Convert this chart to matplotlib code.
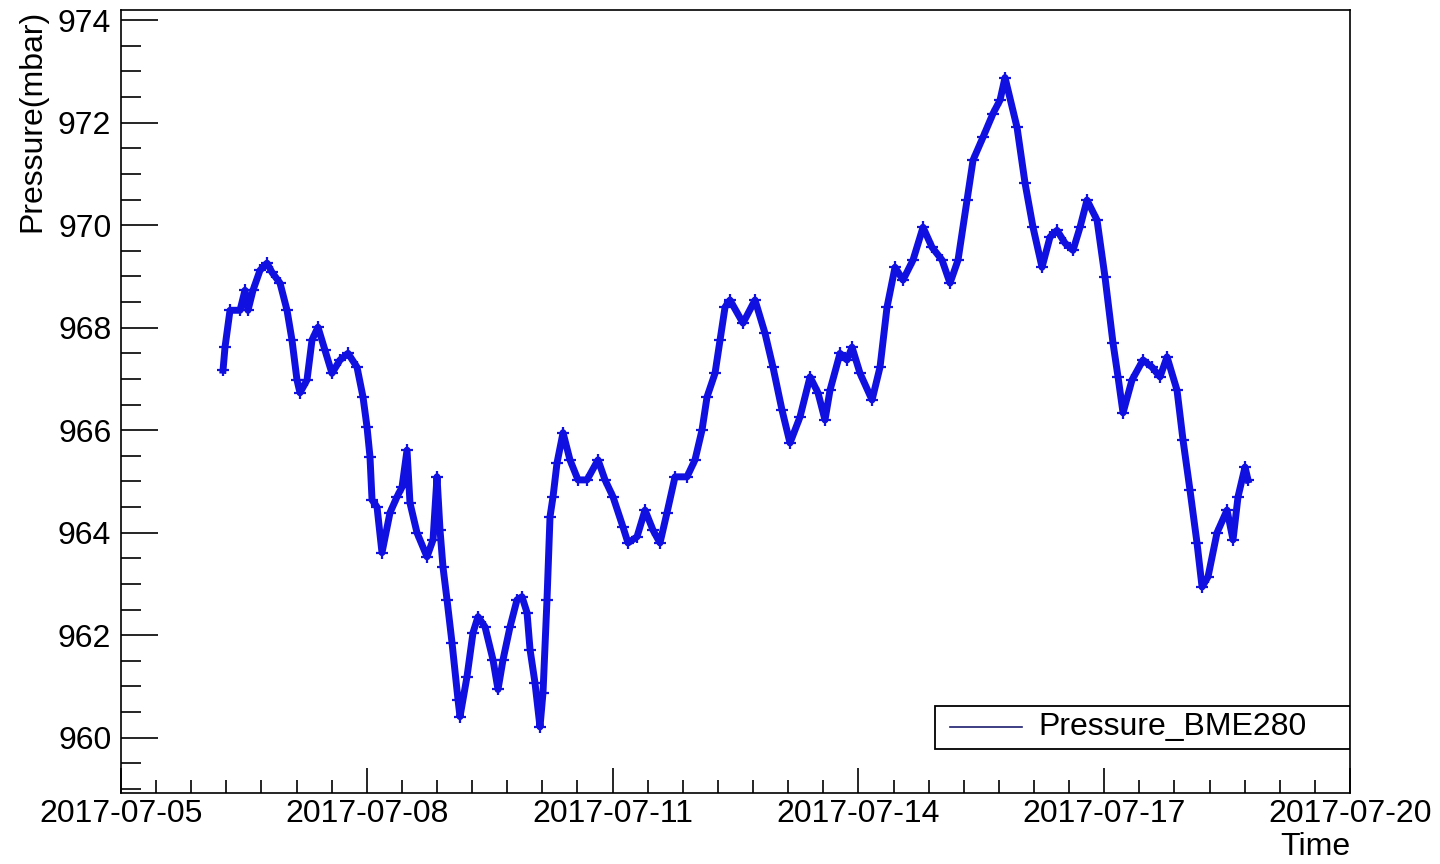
import numpy as np
import pandas as pd
import matplotlib
matplotlib.use("Agg")
import matplotlib.pyplot as plt
import matplotlib.dates as mdates
from matplotlib.ticker import MultipleLocator
from matplotlib.patches import Rectangle
from matplotlib.lines import Line2D

# readings of the BME280 pressure sensor
times = [
    "2017-07-06 05:53", "2017-07-06 06:28", "2017-07-06 07:56", "2017-07-06 10:52", "2017-07-06 12:19",
    "2017-07-06 13:12", "2017-07-06 14:40", "2017-07-06 16:43", "2017-07-06 18:46", "2017-07-06 20:14",
    "2017-07-06 22:35", "2017-07-07 00:38", "2017-07-07 02:05", "2017-07-07 03:33", "2017-07-07 04:26",
    "2017-07-07 06:29", "2017-07-07 07:57", "2017-07-07 09:42", "2017-07-07 11:45", "2017-07-07 13:48",
    "2017-07-07 16:09", "2017-07-07 18:30", "2017-07-07 21:08", "2017-07-07 22:53", "2017-07-08 00:04",
    "2017-07-08 00:56", "2017-07-08 01:32", "2017-07-08 03:00", "2017-07-08 04:27", "2017-07-08 06:48",
    "2017-07-08 08:51", "2017-07-08 10:19", "2017-07-08 11:47", "2017-07-08 12:39", "2017-07-08 14:42",
    "2017-07-08 17:38", "2017-07-08 19:24", "2017-07-08 20:34", "2017-07-08 21:27", "2017-07-08 22:19",
    "2017-07-08 23:30", "2017-07-09 00:58", "2017-07-09 02:43", "2017-07-09 03:18", "2017-07-09 05:21",
    "2017-07-09 07:07", "2017-07-09 08:35", "2017-07-09 10:38", "2017-07-09 12:58", "2017-07-09 14:26",
    "2017-07-09 15:54", "2017-07-09 17:57", "2017-07-09 20:00", "2017-07-09 21:28", "2017-07-09 22:56",
    "2017-07-09 23:49", "2017-07-10 01:16", "2017-07-10 02:44", "2017-07-10 03:37", "2017-07-10 04:47",
    "2017-07-10 05:40", "2017-07-10 06:33", "2017-07-10 07:43", "2017-07-10 09:29", "2017-07-10 11:31",
    "2017-07-10 13:52", "2017-07-10 16:30", "2017-07-10 19:44", "2017-07-10 21:47", "2017-07-11 00:07",
    "2017-07-11 03:03", "2017-07-11 04:31", "2017-07-11 07:09", "2017-07-11 09:30", "2017-07-11 11:50",
    "2017-07-11 13:53", "2017-07-11 15:56", "2017-07-11 18:17", "2017-07-11 21:48", "2017-07-12 00:08",
    "2017-07-12 02:11", "2017-07-12 03:40", "2017-07-12 06:00", "2017-07-12 07:28", "2017-07-12 08:56",
    "2017-07-12 10:23", "2017-07-12 14:12", "2017-07-12 17:43", "2017-07-12 20:39", "2017-07-12 22:59",
    "2017-07-13 01:38", "2017-07-13 03:58", "2017-07-13 06:54", "2017-07-13 09:50", "2017-07-13 12:10",
    "2017-07-13 14:13", "2017-07-13 15:41", "2017-07-13 18:37", "2017-07-13 20:40", "2017-07-13 22:08",
    "2017-07-14 00:29", "2017-07-14 04:00", "2017-07-14 06:20", "2017-07-14 08:23", "2017-07-14 10:44",
    "2017-07-14 13:04", "2017-07-14 16:00", "2017-07-14 18:56", "2017-07-14 21:34", "2017-07-15 00:30",
    "2017-07-15 02:50", "2017-07-15 05:11", "2017-07-15 07:49", "2017-07-15 09:35", "2017-07-15 12:31",
    "2017-07-15 15:26", "2017-07-15 17:29", "2017-07-15 18:57", "2017-07-15 22:28", "2017-07-16 00:49",
    "2017-07-16 03:09", "2017-07-16 05:47", "2017-07-16 08:08", "2017-07-16 10:11", "2017-07-16 12:32",
    "2017-07-16 14:52", "2017-07-16 16:55", "2017-07-16 18:58", "2017-07-16 21:54", "2017-07-17 00:14",
    "2017-07-17 02:35", "2017-07-17 04:03", "2017-07-17 05:31", "2017-07-17 08:09", "2017-07-17 11:22",
    "2017-07-17 14:01", "2017-07-17 16:21", "2017-07-17 18:24", "2017-07-17 21:20", "2017-07-17 23:05",
    "2017-07-18 01:08", "2017-07-18 03:11", "2017-07-18 04:40", "2017-07-18 06:25", "2017-07-18 09:03",
    "2017-07-18 11:59", "2017-07-18 13:44", "2017-07-18 15:12", "2017-07-18 17:15", "2017-07-18 18:08",
]
pressure = [
    967.17, 967.62, 968.34, 968.34, 968.73, 968.34, 968.73, 969.12, 969.26, 969.08,
    968.87, 968.34, 967.76, 966.98, 966.73, 966.98, 967.76, 968.01, 967.56, 967.11,
    967.37, 967.50, 967.23, 966.65, 966.06, 965.48, 964.64, 964.50, 963.61, 964.39,
    964.70, 964.89, 965.61, 964.58, 964.00, 963.53, 963.86, 965.09, 964.05, 963.33,
    962.69, 961.85, 960.74, 960.41, 961.19, 962.05, 962.36, 962.16, 961.52, 960.94,
    961.52, 962.16, 962.69, 962.75, 962.44, 961.72, 961.07, 960.21, 960.88, 962.69,
    964.31, 964.70, 965.36, 965.95, 965.42, 965.03, 965.03, 965.42, 965.03, 964.70,
    964.11, 963.80, 963.92, 964.44, 964.05, 963.80, 964.39, 965.09, 965.09, 965.42,
    966.00, 966.65, 967.11, 967.76, 968.40, 968.54, 968.09, 968.54, 967.89, 967.23,
    966.39, 965.75, 966.26, 967.04, 966.73, 966.20, 966.78, 967.50, 967.37, 967.62,
    967.11, 966.59, 967.23, 968.40, 969.18, 968.93, 969.32, 969.96, 969.57, 969.32,
    968.87, 969.32, 970.49, 971.27, 971.72, 972.18, 972.44, 972.88, 971.91, 970.82,
    969.96, 969.18, 969.77, 969.90, 969.65, 969.51, 969.96, 970.49, 970.10, 968.99,
    967.70, 967.04, 966.34, 966.98, 967.37, 967.23, 967.04, 967.43, 966.78, 965.81,
    964.83, 963.80, 962.94, 963.14, 964.00, 964.44, 963.86, 964.70, 965.28, 965.03,
]
series_name = "Pressure_BME280"
x_start, x_end = "2017-07-05", "2017-07-20"
y_min, y_max = 958.92, 974.2

plt.rcParams['font.family'] = ['Liberation Sans', 'DejaVu Sans']
fs = 23

t = pd.to_datetime(times)

fig = plt.figure(figsize=(14.4, 8.64), dpi=100)
ax = fig.add_axes([121/1440, 1 - 793/864, 1229/1440, 783/864])

# data points, drawn as a thick band with + markers like the ROOT graph
ax.plot(t, pressure, color='#1010e0', lw=5, marker='+', ms=8, mew=1.6,
        solid_joinstyle='round', zorder=3)

ax.set_xlim(pd.Timestamp(x_start), pd.Timestamp(x_end))
ax.set_ylim(y_min, y_max)

# ticks (inside, left/bottom only)
ax.xaxis.set_major_locator(MultipleLocator(3))
ax.xaxis.set_minor_locator(MultipleLocator(3/7))
ax.xaxis.set_major_formatter(mdates.DateFormatter('%Y-%m-%d'))
ax.yaxis.set_major_locator(MultipleLocator(2))
ax.yaxis.set_minor_locator(MultipleLocator(0.5))
ax.tick_params(axis='both', which='both', direction='in', top=False, right=False,
               labelsize=fs, width=1.2, color='black')
ax.tick_params(axis='x', which='major', length=18, pad=4)
ax.tick_params(axis='x', which='minor', length=9.5)
ax.tick_params(axis='y', which='major', length=26.5, pad=7)
ax.tick_params(axis='y', which='minor', length=14.5)
for sp in ax.spines.values():
    sp.set_linewidth(1.2)

ax.set_ylabel("Pressure(mbar)", fontsize=fs, loc='top')
ax.yaxis.set_label_coords(-0.06, 1.0)
ax.set_xlabel("Time", fontsize=fs, loc='right')
ax.xaxis.set_label_coords(1.0, -0.05)

# legend box in the lower right corner
ax.add_patch(Rectangle((0.662, 0.0562), 0.338, 0.0549, transform=ax.transAxes,
                       facecolor='white', edgecolor='black', lw=1.3, zorder=5))
ax.add_line(Line2D([0.6745, 0.7331], [0.0843, 0.0843], transform=ax.transAxes,
                   color='#1c1c6e', lw=1.2, zorder=6))
ax.text(0.7461, 0.0843, series_name, transform=ax.transAxes, fontsize=fs,
        va='center', ha='left', zorder=6)

fig.savefig("out.png", dpi=100)
